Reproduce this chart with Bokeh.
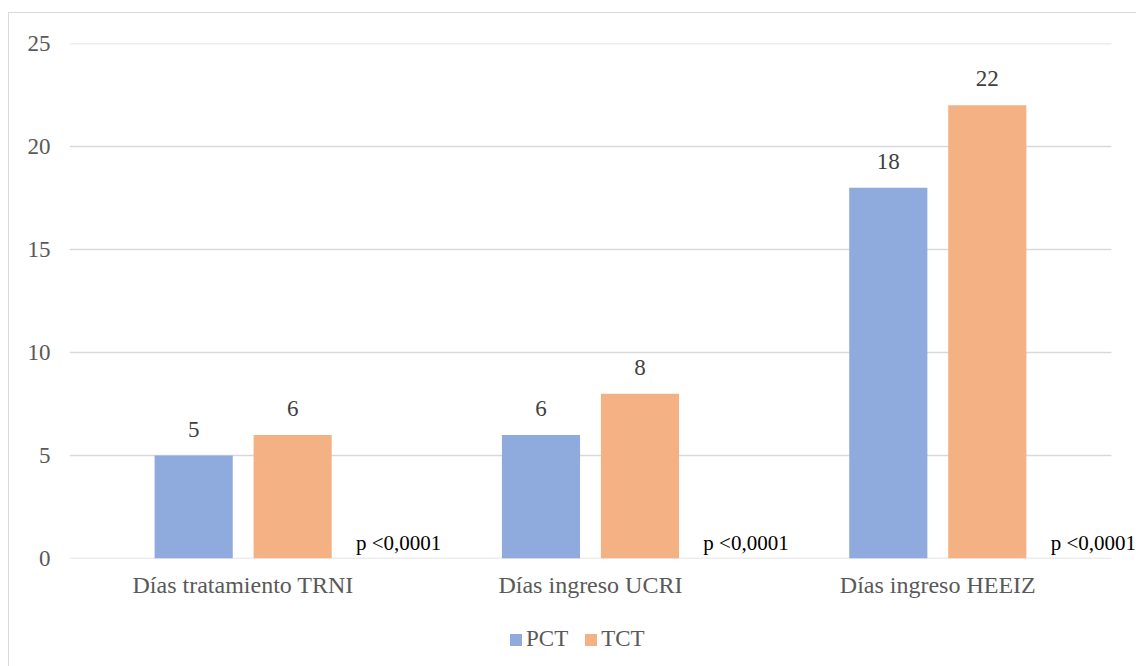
from bokeh.plotting import figure
from bokeh.layouts import column
from bokeh.core.properties import value
from bokeh.models import (ColumnDataSource, Range1d, FixedTicker, LabelSet,
                          Legend, LegendItem)
from bokeh.transform import dodge
from bokeh.embed import file_html
from bokeh.resources import INLINE

# Data
categories = ["Días tratamiento TRNI", "Días ingreso UCRI", "Días ingreso HEEIZ"]
pct_values = [5, 6, 18]
tct_values = [6, 8, 22]
p_values = ["p <0,0001", "p <0,0001", "p <0,0001"]
series_names = ["PCT", "TCT"]
y_ticks = [0, 5, 10, 15, 20, 25]

SERIF = "Liberation Serif"
BLUE = "#8FAADC"
ORANGE = "#F4B183"
GRID = "#d9d9d9"
colors = [BLUE, ORANGE]

n = len(categories)
centers = [i + 0.5 for i in range(n)]

src = ColumnDataSource(dict(
    x=centers,
    cat=categories,
    pct=pct_values,
    tct=tct_values,
    pct_txt=[str(v) for v in pct_values],
    tct_txt=[str(v) for v in tct_values],
    pval=p_values,
    zero=[0] * n,
))

# Category span 0..n, with a little room on the right for the last note
p = figure(
    x_range=Range1d(0, n + 0.075),
    y_range=Range1d(0, 25),
    width=1128, height=598,
    output_backend="svg", toolbar_location=None,
    min_border_left=60, min_border_right=0,
    min_border_top=30, min_border_bottom=53,
)
p.outline_line_color = None
p.background_fill_color = "white"
p.border_fill_color = "white"

# Horizontal gridlines spanning only the category area
p.multi_line(xs=[[0, n] for _ in y_ticks], ys=[[t, t] for t in y_ticks],
             line_color=GRID, line_width=1.5)

bw = 0.225
off = 0.1425
p.vbar(x=dodge("x", -off), top="pct", width=bw,
       source=src, fill_color=BLUE, line_color=None)
p.vbar(x=dodge("x", off), top="tct", width=bw,
       source=src, fill_color=ORANGE, line_color=None)

# Value labels above the bars
for col, txt, dx in (("pct", "pct_txt", -off), ("tct", "tct_txt", off)):
    p.add_layout(LabelSet(
        x=dodge("x", dx), y=col, text=txt, source=src,
        text_align="center", text_baseline="bottom", y_offset=19,
        text_font=value(SERIF), text_font_size=value("23px"), text_color="#404040",
    ))

# Significance notes next to each group
p.add_layout(LabelSet(
    x=dodge("x", 0.325), y="zero", text="pval", source=src,
    text_align="left", text_baseline="bottom", y_offset=4,
    text_font=value(SERIF), text_font_size=value("21px"), text_color="black",
))

# Axes
for ax in p.yaxis:
    ax.ticker = FixedTicker(ticks=y_ticks)
    ax.axis_line_color = None
    ax.major_tick_line_color = None
    ax.minor_tick_line_color = None
    ax.major_label_standoff = 13
    ax.major_label_text_font = SERIF
    ax.major_label_text_font_size = "23px"
    ax.major_label_text_color = "#595959"

for ax in p.xaxis:
    ax.ticker = FixedTicker(ticks=centers)
    ax.major_label_overrides = {c: name for c, name in zip(centers, categories)}
    ax.axis_line_color = None
    ax.major_tick_line_color = None
    ax.minor_tick_line_color = None
    ax.major_label_standoff = 7
    ax.major_label_text_font = SERIF
    ax.major_label_text_font_size = "24px"
    ax.major_label_text_color = "#595959"

p.xgrid.grid_line_color = None
p.ygrid.grid_line_color = None

# Legend strip under the chart
lg = figure(width=1128, height=56, output_backend="svg", toolbar_location=None,
            min_border=0, x_range=(0, 1), y_range=(0, 1),
            x_axis_type=None, y_axis_type=None)
lg.grid.grid_line_color = None
lg.outline_line_color = None
lg.border_fill_color = "white"
items = []
for name, c in zip(series_names, colors):
    # zero-size proxy so the legend has a swatch to draw
    r = lg.vbar(x=[0], top=[0], width=0, fill_color=c, line_color=None)
    items.append(LegendItem(label=name, renderers=[r]))

legend = Legend(
    items=items, orientation="horizontal", location=(439, 15),
    glyph_width=15, glyph_height=15, label_standoff=3, spacing=15,
    label_text_font=SERIF, label_text_font_size="23px", label_text_color="#595959",
    border_line_color=None, background_fill_alpha=0,
    padding=0, margin=0,
)
lg.add_layout(legend, "center")

layout = column(p, lg, spacing=0)
layout.margin = (12, 0, 0, 8)
layout.styles = {"border-top": f"1px solid {GRID}", "border-left": f"1px solid {GRID}"}

open("out.html", "w").write(file_html(layout, INLINE))
